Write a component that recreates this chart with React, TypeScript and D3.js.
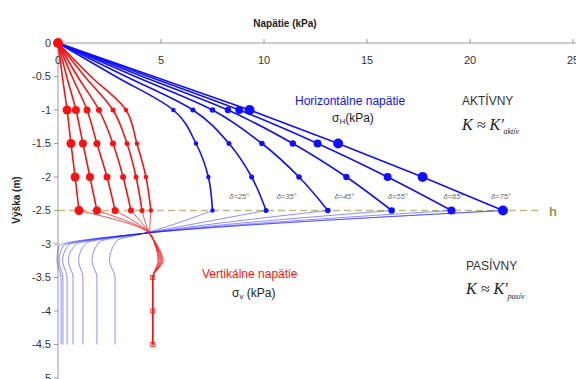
import * as d3 from "d3";
import * as React from "react";

// depth levels (m) for the upper curves
const depths = [0, -0.5, -1, -1.5, -2, -2.5];
const deltaLabels = ["δ=25°", "δ=35°", "δ=45°", "δ=55°", "δ=65°", "δ=75°"];
const deltaLabelX = [8.8, 11.1, 13.9, 16.5, 19.2, 21.5];

// horizontal stress (kPa) at each depth, one row per delta
const horiz = [
  [0, 2.8, 5.6, 6.7, 7.3, 7.5],
  [0, 3.3, 6.55, 8.3, 9.4, 10.1],
  [0, 3.75, 7.5, 9.9, 11.7, 13.1],
  [0, 4.1, 8.25, 11.4, 14.0, 16.2],
  [0, 4.4, 8.8, 12.6, 16.0, 19.1],
  [0, 4.65, 9.3, 13.6, 17.7, 21.6],
];
const horizMarker = [2.2, 2.5, 2.8, 3.2, 4, 5];

// vertical stress (kPa) at each depth
const vert = [
  [0, 0.21, 0.44, 0.63, 0.83, 1.02],
  [0, 0.42, 0.87, 1.21, 1.55, 1.89],
  [0, 0.68, 1.41, 1.89, 2.38, 2.77],
  [0, 0.95, 1.99, 2.67, 3.16, 3.54],
  [0, 1.3, 2.67, 3.35, 3.79, 4.08],
  [0, 1.6, 3.3, 3.83, 4.27, 4.51],
];
const vertMarker = [4.5, 4, 3.5, 3, 2.5, 2.2];

// lower (passive) part below h
const lowerDepths = [-2.5, -2.84, -3.0, -3.25, -3.5, -4.5];
const blueLower = [
  [7.5, 4.2, 2.85, 2.5, 2.77, 2.77],
  [10.1, 4.2, 2.0, 1.65, 1.89, 1.89],
  [13.1, 4.2, 1.35, 1.0, 1.21, 1.21],
  [16.2, 4.2, 0.85, 0.5, 0.73, 0.73],
  [19.1, 4.2, 0.5, 0.22, 0.44, 0.44],
  [21.6, 4.2, 0.25, 0.05, 0.24, 0.24],
  [21.6, 4.2, 0.05, -0.05, 0.15, 0.15],
];
const blueLowerTopY = [-2.95, -2.97, -2.99, -3.01, -3.02, -3.03, -3.03];
const redLower = [
  [1.02, 4.45, 4.7, 4.85, 4.6, 4.6],
  [1.89, 4.45, 4.7, 4.9, 4.6, 4.6],
  [2.77, 4.45, 4.72, 4.95, 4.6, 4.6],
  [3.54, 4.45, 4.74, 5.0, 4.6, 4.6],
  [4.08, 4.45, 4.76, 5.05, 4.6, 4.6],
  [4.51, 4.45, 4.78, 5.1, 4.6, 4.6],
];
const redLowerMarks = [-3.5, -4, -4.5];
const hDepth = -2.5;

const xTicks = [0, 5, 10, 15, 20, 25];
const yTicks = [0, -0.5, -1, -1.5, -2, -2.5, -3, -3.5, -4, -4.5, -5];

const BLUE = "#1010ff";
const RED = "#ff1010";

export default function App() {
  const x = d3.scaleLinear().domain([0, 25]).range([58, 573]);
  const y = d3.scaleLinear().domain([0, -5]).range([43, 378]);
  const line = d3
    .line<[number, number]>()
    .x((d) => x(d[0]))
    .y((d) => y(d[1]))
    .curve(d3.curveMonotoneY);
  const straight = d3
    .line<[number, number]>()
    .x((d) => x(d[0]))
    .y((d) => y(d[1]));
  const font = "Liberation Sans, Arial, sans-serif";

  return (
    <svg width={576} height={379} style={{ position: "absolute", left: 0, top: 0 }} fontFamily={font}>
      <rect width={576} height={379} fill="#fff" />
      {/* axes */}
      <line x1={x(0)} x2={576} y1={y(0)} y2={y(0)} stroke="#999" strokeWidth={1} />
      <line x1={x(0)} x2={x(0)} y1={y(0)} y2={379} stroke="#999" strokeWidth={1} />
      {xTicks.map((t) => (
        <g key={"xt" + t}>
          <line x1={x(t)} x2={x(t)} y1={y(0)} y2={y(0) - 4} stroke="#999" />
          <text x={x(t)} y={64} fontSize={11} textAnchor="middle" fill="#333">{t}</text>
        </g>
      ))}
      {yTicks.map((t) => (
        <g key={"yt" + t}>
          <line x1={x(0) - 4} x2={x(0)} y1={y(t)} y2={y(t)} stroke="#999" />
          <text x={51} y={y(t)} dy="0.35em" fontSize={11} textAnchor="end" fill="#333">{t}</text>
        </g>
      ))}
      <text x={285} y={27} fontSize={10} fontWeight="bold" textAnchor="middle" fill="#222">Napätie (kPa)</text>
      <text transform="translate(20,200) rotate(-90)" fontSize={10} fontWeight="bold" textAnchor="middle" fill="#222">Výška (m)</text>

      {/* h line */}
      <line x1={x(0)} x2={x(23.4)} y1={y(hDepth)} y2={y(hDepth)} stroke="#bcbc80" strokeWidth={1.3} strokeDasharray="7,4" />
      <text x={549} y={216} fontSize={13} fill="#9a9a3a" fontWeight="bold">h</text>

      {/* lower thin curves */}
      {blueLower.map((row, i) => (
        <path key={"bl" + i}
          d={line(row.map((v, j) => [v, j === 2 ? blueLowerTopY[i] : lowerDepths[j]] as [number, number])) || ""}
          fill="none" stroke={BLUE} strokeWidth={0.8} strokeOpacity={0.6} />
      ))}
      {redLower.map((row, i) => (
        <path key={"rl" + i}
          d={line(row.map((v, j) => [v, lowerDepths[j]] as [number, number])) || ""}
          fill="none" stroke={RED} strokeWidth={1} strokeOpacity={0.75} />
      ))}
      {redLowerMarks.map((d) => (
        <rect key={"rm" + d} x={x(4.6) - 2} y={y(d) - 2} width={4} height={4} fill="none" stroke={RED} strokeWidth={0.8} />
      ))}

      {/* vertical stress curves */}
      {vert.map((row, i) => (
        <g key={"v" + i}>
          <path d={line(row.map((v, j) => [v, depths[j]] as [number, number])) || ""} fill="none" stroke={RED} strokeWidth={1.6} />
          {row.map((v, j) => (j >= 2 ? <circle key={j} cx={x(v)} cy={y(depths[j])} r={vertMarker[i]} fill={RED} /> : null))}
        </g>
      ))}

      {/* horizontal stress curves */}
      {horiz.map((row, i) => (
        <g key={"h" + i}>
          <path d={(i === 5 ? straight : line)(row.map((v, j) => [v, depths[j]] as [number, number])) || ""} fill="none" stroke={BLUE} strokeWidth={1.6} />
          {row.map((v, j) => (j >= 2 ? <circle key={j} cx={x(v)} cy={y(depths[j])} r={horizMarker[i]} fill={BLUE} /> : null))}
          <text x={x(deltaLabelX[i])} y={y(hDepth) - 12} fontSize={7.5} fontStyle="italic" textAnchor="middle" fill="#666">{deltaLabels[i]}</text>
        </g>
      ))}
      <circle cx={x(0)} cy={y(0)} r={5} fill={RED} />

      {/* annotations */}
      <text x={295} y={105} fontSize={12} fill={BLUE}>Horizontálne napätie</text>
      <text x={332} y={122} fontSize={12} fill="#222">σ<tspan fontSize={8} dy={2}>H</tspan><tspan dy={-2}>(kPa)</tspan></text>
      <text x={462} y={105} fontSize={12} fill="#333">AKTÍVNY</text>
      <text x={462} y={130} fontSize={16} fontStyle="italic" fontFamily="Liberation Serif, serif" fill="#222">K ≈ K'<tspan fontSize={8} dy={4}>aktív</tspan></text>

      <text x={202} y={278} fontSize={12} fill={RED}>Vertikálne napätie</text>
      <text x={232} y={297} fontSize={12} fill="#222">σ<tspan fontSize={8} dy={2}>v</tspan><tspan dy={-2}> (kPa)</tspan></text>
      <text x={466} y={270} fontSize={12} fill="#333">PASÍVNY</text>
      <text x={466} y={294} fontSize={16} fontStyle="italic" fontFamily="Liberation Serif, serif" fill="#222">K ≈ K'<tspan fontSize={8} dy={5}>pasív</tspan></text>
    </svg>
  );
}
